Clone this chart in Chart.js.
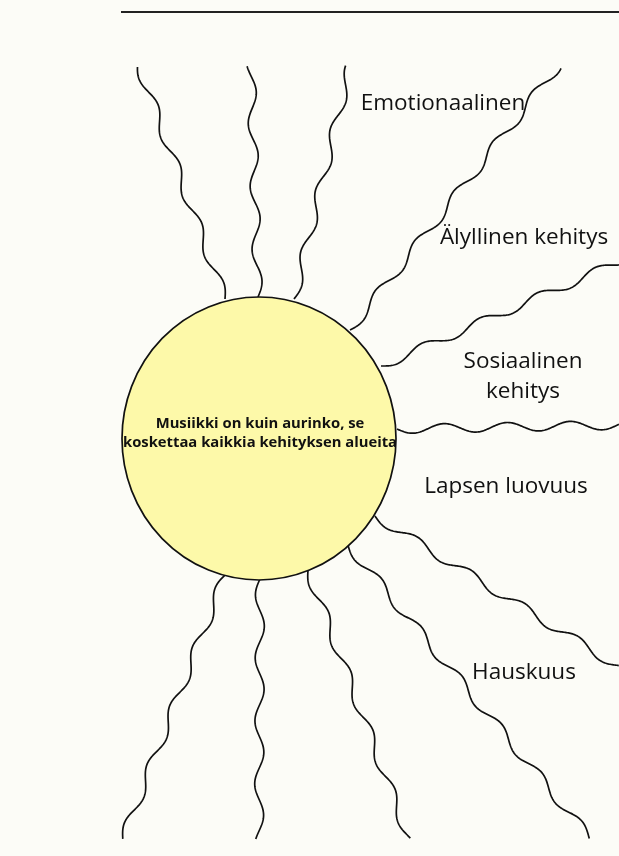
<!DOCTYPE html>
<html>
<head>
<meta charset="utf-8">
<script src="https://cdn.jsdelivr.net/npm/chart.js@4"></script>
<style>
  html, body { margin: 0; padding: 0; background: #fcfcf7; }
  #wrap { width: 619px; height: 856px; }
</style>
</head>
<body>
<div id="wrap"><canvas id="sun" width="619" height="856"></canvas></div>
<script>
// Säteet: alku (auringon reuna) ja loppu, kuvan koordinaateissa
const rayStartX = [225, 258, 294, 350, 381, 397, 375, 348, 308, 260, 225];
const rayStartY = [299, 297, 299, 330, 366, 429, 516, 545, 570, 579, 575];
const rayEndX   = [139, 251, 350, 558, 619, 619, 619, 590, 409, 259, 123];
const rayEndY   = [ 66,  66,  66,  66, 262, 425, 667, 838, 839, 839, 839];

// Aurinko (keskipiste + säteet)
const sunCenter = [259, 438.5];
const sunRadius = [137, 141.5];
const sunText = ['Musiikki on kuin aurinko, se', 'koskettaa kaikkia kehityksen alueita'];

// Kehitysalueet
const areaLabels = ['Emotionaalinen', 'Älyllinen kehitys', 'Sosiaalinen', 'kehitys', 'Lapsen luovuus', 'Hauskuus'];
const areaX = [443, 524, 523, 523, 506, 524];
const areaY = [104, 238, 362, 392, 487, 673];

// Yläreunan viiva
const topLineX = [121, 619];
const topLineY = [12, 12];

const rayDatasets = rayStartX.map((sx, i) => ({
    label: 'ray' + i,
    data: [{ x: sx, y: rayStartY[i] }, { x: rayEndX[i], y: rayEndY[i] }],
    showLine: true,
    wavy: true,
    borderColor: '#111',
    borderWidth: 1.7,
    pointRadius: 0
}));

// Piirretään säteet aaltoviivoina
const wavyPlugin = {
    id: 'wavy',
    beforeDatasetDraw(chart, args) {
        const ds = chart.data.datasets[args.index];
        if (!ds.wavy) return;
        const pts = args.meta.data;
        const ctx = chart.ctx;
        const x0 = pts[0].x, y0 = pts[0].y, x1 = pts[1].x, y1 = pts[1].y;
        const len = Math.hypot(x1 - x0, y1 - y0);
        const ux = (x1 - x0) / len, uy = (y1 - y0) / len;
        const amp = 4.5, wl = 63;
        ctx.save();
        ctx.beginPath();
        for (let s = 0; s <= len; s += 1) {
            const off = amp * Math.sin(s / wl * Math.PI * 2);
            const px = x0 + ux * s - uy * off;
            const py = y0 + uy * s + ux * off;
            if (s === 0) ctx.moveTo(px, py); else ctx.lineTo(px, py);
        }
        ctx.strokeStyle = ds.borderColor;
        ctx.lineWidth = ds.borderWidth;
        ctx.stroke();
        ctx.restore();
        return false;
    },
    afterDatasetsDraw(chart) {
        const ctx = chart.ctx;
        const xs = chart.scales.x, ys = chart.scales.y;
        const cx = xs.getPixelForValue(sunCenter[0]);
        const cy = ys.getPixelForValue(sunCenter[1]);
        const rx = Math.abs(xs.getPixelForValue(sunCenter[0] + sunRadius[0]) - cx);
        const ry = Math.abs(ys.getPixelForValue(sunCenter[1] + sunRadius[1]) - cy);
        ctx.save();
        ctx.beginPath();
        ctx.ellipse(cx, cy, rx, ry, 0, 0, Math.PI * 2);
        ctx.fillStyle = '#fdf9a9';
        ctx.fill();
        ctx.strokeStyle = '#111';
        ctx.lineWidth = 1.7;
        ctx.stroke();

        ctx.fillStyle = '#111';
        ctx.textAlign = 'center';
        ctx.textBaseline = 'middle';
        ctx.font = 'bold 14.8px "Open Sans"';
        ctx.fillText(sunText[0], cx + 1, ys.getPixelForValue(424));
        ctx.fillText(sunText[1], cx + 1, ys.getPixelForValue(443));

        ctx.font = '22.5px "Open Sans"';
        areaLabels.forEach((t, i) => {
            ctx.fillText(t, xs.getPixelForValue(areaX[i]), ys.getPixelForValue(areaY[i]));
        });
        ctx.restore();
    }
};

new Chart(document.getElementById('sun'), {
    type: 'scatter',
    data: {
        datasets: [
            {
                label: 'top',
                data: topLineX.map((x, i) => ({ x, y: topLineY[i] })),
                showLine: true,
                borderColor: '#222',
                borderWidth: 2,
                pointRadius: 0
            },
            ...rayDatasets
        ]
    },
    options: {
        responsive: false,
        animation: false,
        layout: { padding: 0 },
        plugins: { legend: { display: false }, tooltip: { enabled: false } },
        scales: {
            x: { type: 'linear', min: 0, max: 619, display: false },
            y: { type: 'linear', min: 0, max: 856, reverse: true, display: false }
        }
    },
    plugins: [wavyPlugin]
});
</script>
</body>
</html>
